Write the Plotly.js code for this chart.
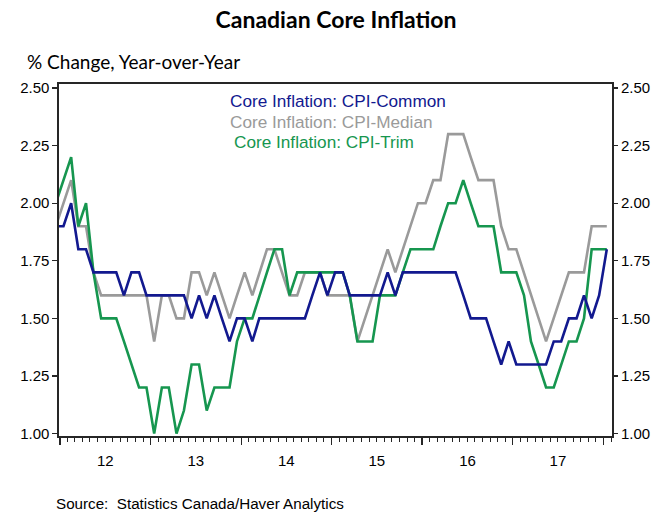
<!DOCTYPE html>
<html>
<head>
<meta charset="utf-8">
<script src="https://cdn.plot.ly/plotly-3.0.1.min.js"></script>
<style>html,body{margin:0;padding:0;background:#fff;}#chart{width:655px;height:512px;}</style>
</head>
<body>
<div id="chart"></div>
<script>
// Monthly data, Dec 2011 .. Jan 2018 (first point sits just left of the axis start)
const startYear = 2011, startMonth = 12;
const cpiCommon = [1.9,
  1.9,2.0,1.8,1.8,1.7,1.7,1.7,1.7,1.6,1.7,1.7,1.6,
  1.6,1.6,1.6,1.6,1.6,1.5,1.6,1.5,1.6,1.5,1.4,1.5,
  1.5,1.4,1.5,1.5,1.5,1.5,1.5,1.5,1.5,1.6,1.7,1.6,
  1.7,1.7,1.6,1.6,1.6,1.6,1.6,1.7,1.6,1.7,1.7,1.7,
  1.7,1.7,1.7,1.7,1.7,1.6,1.5,1.5,1.5,1.4,1.3,1.4,
  1.3,1.3,1.3,1.3,1.3,1.4,1.4,1.5,1.5,1.6,1.5,1.6,
  1.8];
const cpiMedian = [1.9,
  2.0,2.1,1.9,1.9,1.7,1.6,1.6,1.6,1.6,1.6,1.6,1.6,
  1.4,1.6,1.6,1.5,1.5,1.7,1.7,1.6,1.7,1.6,1.5,1.6,
  1.7,1.6,1.7,1.8,1.8,1.7,1.6,1.6,1.7,1.7,1.7,1.6,
  1.6,1.6,1.6,1.4,1.5,1.6,1.7,1.8,1.7,1.8,1.9,2.0,
  2.0,2.1,2.1,2.3,2.3,2.3,2.2,2.1,2.1,2.1,1.9,1.8,
  1.8,1.7,1.6,1.5,1.4,1.5,1.6,1.7,1.7,1.7,1.9,1.9,
  1.9];
const cpiTrim = [2.0,
  2.1,2.2,1.9,2.0,1.7,1.5,1.5,1.5,1.4,1.3,1.2,1.2,
  1.0,1.2,1.2,1.0,1.1,1.3,1.3,1.1,1.2,1.2,1.2,1.4,
  1.5,1.5,1.6,1.7,1.8,1.8,1.6,1.7,1.7,1.7,1.7,1.7,
  1.7,1.7,1.6,1.4,1.4,1.4,1.6,1.6,1.6,1.7,1.8,1.8,
  1.8,1.8,1.9,2.0,2.0,2.1,2.0,1.9,1.9,1.9,1.7,1.7,
  1.7,1.6,1.4,1.3,1.2,1.2,1.3,1.4,1.4,1.5,1.8,1.8,
  1.8];
const seriesNames = ['Core Inflation: CPI-Common', 'Core Inflation: CPI-Median', 'Core Inflation: CPI-Trim'];
const yearLabels = ['12','13','14','15','16','17'];
const yTicks = [1.00,1.25,1.50,1.75,2.00,2.25,2.50];

const colors = {common:'#12198f', median:'#9a9a9a', trim:'#16964f'};

// month dates (mid-month)
const dates = cpiCommon.map((_, i) => {
  const m0 = (startMonth - 1) + i;
  const y = startYear + Math.floor(m0 / 12);
  const m = (m0 % 12) + 1;
  return y + '-' + String(m).padStart(2,'0') + '-15';
});
const yearStarts = [], yearMids = [];
for (let k = 0; k <= yearLabels.length; k++) yearStarts.push((2012 + k) + '-01-01');
for (let k = 0; k < yearLabels.length; k++) yearMids.push((2012 + k) + '-07-02');

const xRange = ['2011-12-28', '2018-02-05'];
const yRange = [0.9896, 2.5174];
const axisCol = '#262626';
const tickFont = {family:'Liberation Sans, Arial, sans-serif', size:15, color:'#000'};

const line = (y, name, color) => ({
  x: dates, y: y, name: name, type:'scatter', mode:'lines',
  line:{color: color, width: 2.6}, hoverinfo:'skip', showlegend:false
});

const traces = [
  line(cpiMedian, seriesNames[1], colors.median),
  line(cpiTrim, seriesNames[2], colors.trim),
  line(cpiCommon, seriesNames[0], colors.common),
  {x:[], y:[], xaxis:'x2', yaxis:'y2', type:'scatter', mode:'lines', showlegend:false, hoverinfo:'skip'}
];

const legendY = [0.9525, 0.8927, 0.8358];
const legendX = [0.3056, 0.3056, 0.3128];
const legendColors = [colors.common, colors.median, colors.trim];
const annotations = seriesNames.map((t, i) => ({
  text: t, xref:'paper', yref:'paper', x: legendX[i], y: legendY[i],
  xanchor:'left', yanchor:'middle', showarrow:false,
  font:{family:'Liberation Sans, Arial, sans-serif', size:17.2, color: legendColors[i]}
}));
annotations.push({
  text:'% Change, Year-over-Year', xref:'paper', yref:'paper', x:-0.061, y:1.0635,
  xanchor:'left', yanchor:'middle', showarrow:false,
  font:{family:'Lato, sans-serif', size:19, color:'#000'}
});
annotations.push({
  text:'Source:  Statistics Canada/Haver Analytics', xref:'paper', yref:'paper', x:-0.009, y:-0.1905,
  xanchor:'left', yanchor:'middle', showarrow:false,
  font:{family:'Liberation Sans, Arial, sans-serif', size:15.2, color:'#000'}
});

const layout = {
  width:655, height:512,
  margin:{l:59, r:43, t:84, b:76, pad:0},
  paper_bgcolor:'#fff', plot_bgcolor:'#fff',
  title:{text:'Canadian Core Inflation', x:0.513, xanchor:'center', xref:'container',
         y:0.961, yanchor:'middle', yref:'container',
         font:{family:'Lato, sans-serif', size:23, color:'#000', weight:700}},
  xaxis:{type:'date', range:xRange, tickvals:yearStarts, showticklabels:false,
         ticks:'outside', ticklen:7, tickwidth:1.3, tickcolor:axisCol,
         minor:{dtick:'M1', tick0:'2012-01-01', ticks:'outside', ticklen:4, tickwidth:1, tickcolor:axisCol, showgrid:false},
         showgrid:false, zeroline:false, showline:true, mirror:true, linecolor:axisCol, linewidth:1.6},
  xaxis2:{type:'date', range:xRange, overlaying:'x', anchor:'y', side:'bottom',
          tickvals:yearMids, ticktext:yearLabels, ticks:'outside', ticklen:11, tickcolor:'rgba(0,0,0,0)',
          showgrid:false, zeroline:false, showline:false, tickfont:tickFont},
  yaxis:{range:yRange, tickvals:yTicks, tickformat:'.2f', ticks:'outside', ticklen:5, tickwidth:1.3,
         tickcolor:axisCol, showgrid:false, zeroline:false, showline:true, mirror:true,
         linecolor:axisCol, linewidth:1.6, tickfont:tickFont},
  yaxis2:{range:yRange, overlaying:'y', side:'right', anchor:'x', tickvals:yTicks, tickformat:'.2f',
          ticks:'outside', ticklen:5, tickwidth:1.3, tickcolor:axisCol, showgrid:false, zeroline:false,
          showline:false, tickfont:tickFont},
  annotations: annotations,
  showlegend:false
};

Plotly.newPlot('chart', traces, layout, {staticPlot:true, displayModeBar:false});
</script>
</body>
</html>
